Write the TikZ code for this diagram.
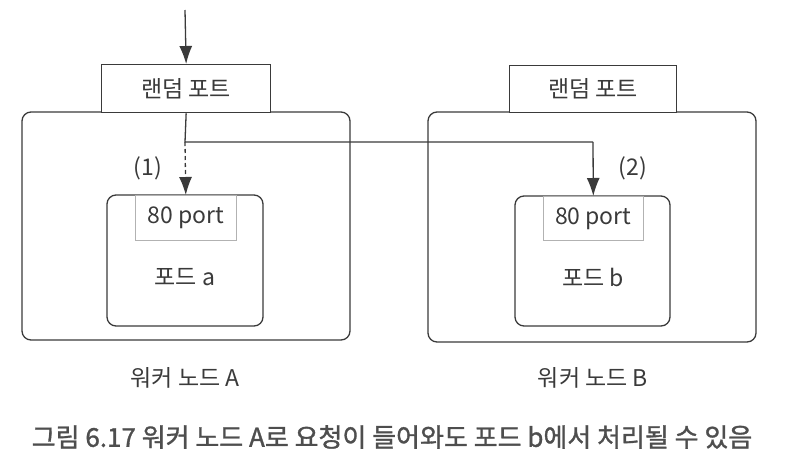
\documentclass[tikz,border=0pt]{standalone}
\usepackage{fontspec}
\setmainfont{Noto Sans CJK KR}
\newfontfamily\capfont[FakeBold=1.2]{Noto Sans CJK KR}
\usetikzlibrary{arrows.meta}
\definecolor{ink}{HTML}{3A3A3A}
\begin{document}
\begin{tikzpicture}[x=1pt,y=-1pt,
  line/.style={draw=ink,line width=1.3pt},
  box/.style={draw=ink,line width=1.3pt,rounded corners=9pt},
  portbox/.style={draw=ink,line width=1.3pt,fill=white},
  inner/.style={draw=gray!60,line width=0.6pt},
  lbl/.style={text=ink,font=\fontsize{23}{26}\selectfont,inner sep=0pt},
  captxt/.style={text=ink!90,font=\capfont\fontsize{26}{30}\selectfont,inner sep=0pt},
  arr/.style={-{Latex[length=18pt,width=13pt]}}]
\useasboundingbox (0,0) rectangle (794,474);
% worker nodes
\draw[box] (22,112) rectangle (350,340);
\draw[box] (428,112) rectangle (756,342);
% random port boxes
\node[portbox,minimum width=169pt,minimum height=48pt,anchor=north west,inner sep=0pt] (rpa) at (101,64) {};
\node[lbl] at (rpa.center) {랜덤 포트};
\node[portbox,minimum width=167pt,minimum height=47pt,anchor=north west,inner sep=0pt] (rpb) at (509,65) {};
\node[lbl] at (rpb.center) {랜덤 포트};
% pods
\draw[box] (107,195) rectangle (263,326);
\draw[box] (515,196) rectangle (670,326);
\node[inner,minimum width=101pt,minimum height=45pt,anchor=north west,inner sep=0pt] (pa) at (135,195) {};
\node[lbl] at (pa.center) {80 port};
\node[inner,minimum width=100pt,minimum height=44pt,anchor=north west,inner sep=0pt] (pb) at (543,196) {};
\node[lbl] at (pb.center) {80 port};
\node[lbl] (poda) at (185,277) {포드 a};
\node[lbl] (podb) at (593,277) {포드 b};
\node[lbl] (wa) at (185,378) {워커 노드 A};
\node[lbl] (wb) at (593,378) {워커 노드 B};
\node[lbl] (l1) at (148,168) {(1)};
\node[lbl] (l2) at (633,168) {(2)};
% arrows
\coordinate (top) at (185,10);
\coordinate (j) at (185,142);
\coordinate (k) at (593,142);
\draw[line,arr] (top) -- (rpa.north);
\draw[line] (rpa.south) -- (j) -- (k);
\draw[line,arr] (k) -- (pb.north);
\draw[line,arr,dashed,dash pattern=on 4pt off 3pt] (j) -- (pa.north);
% caption
\node[captxt] (caption) at (392,437) {그림 6.17 워커 노드 A로 요청이 들어와도 포드 b에서 처리될 수 있음};
\end{tikzpicture}
\end{document}
